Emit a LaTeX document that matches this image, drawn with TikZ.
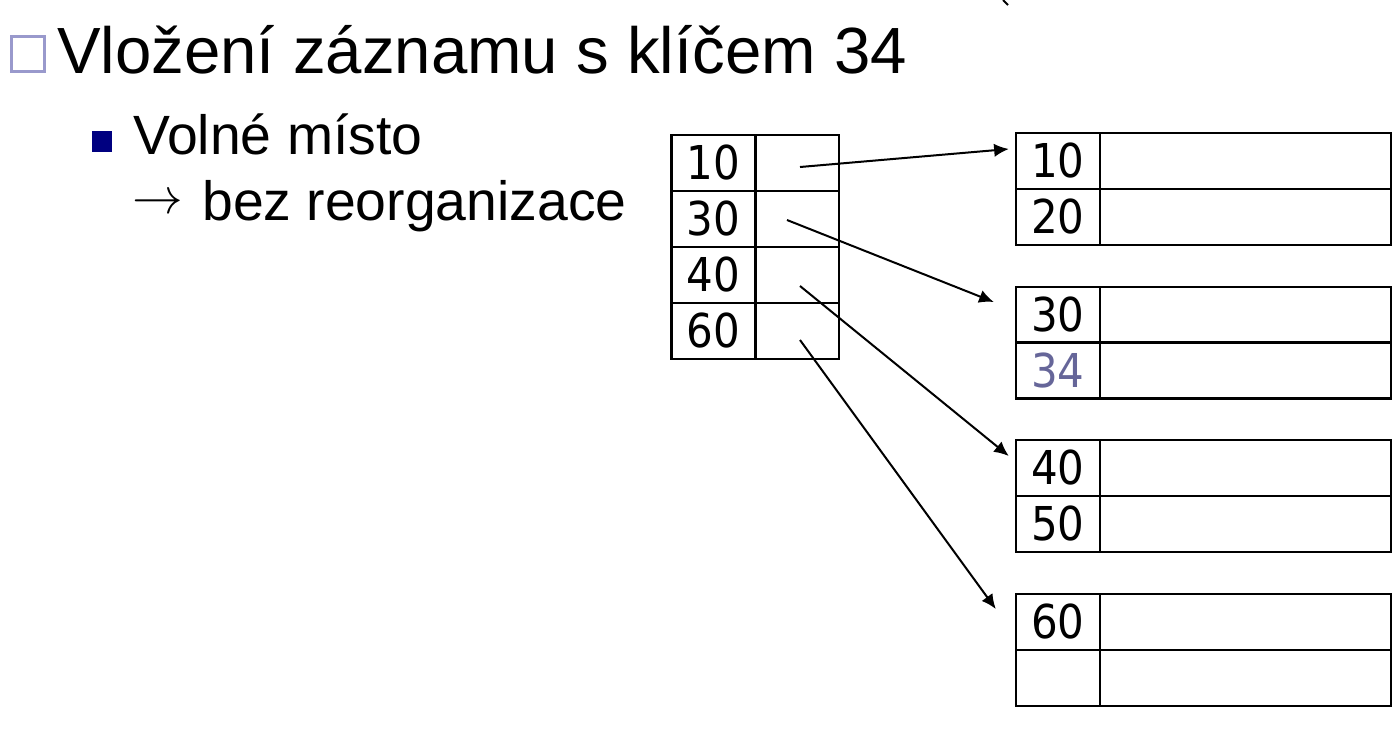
\RequirePackage{fix-cm}
\documentclass[tikz,border=0pt]{standalone}
\usepackage{fontspec}
\setmainfont{Liberation Sans}
\newfontfamily\numfont{DejaVu Sans Condensed}
\usetikzlibrary{arrows.meta}
\definecolor{boxlilac}{RGB}{153,153,204}
\definecolor{bulletnavy}{RGB}{0,0,128}
\definecolor{newkey}{RGB}{102,102,153}
\tikzset{
  cellbox/.style={draw, line width=1.8pt, rectangle, inner sep=0pt, minimum height=42pt,
    font=\numfont\fontsize{35}{42}\selectfont},
  keycell/.style={cellbox, minimum width=63pt},
  ptrcell/.style={cellbox, minimum width=63pt},
  datacell/.style={cellbox, minimum width=218.25pt},
  ptrarrow/.style={line width=1.5pt, -{Latex[length=11pt,width=10pt]}},
  slidetext/.style={anchor=base west, inner sep=0pt},
}
\begin{document}
\begin{tikzpicture}[x=0.75pt,y=-0.75pt]
\useasboundingbox (0,0) rectangle (1396,736);
% title
\draw[boxlilac, line width=2.6pt] (11.5,36.5) rectangle (44.5,71.5);
\node[slidetext, font=\fontsize{49}{60}\selectfont] (title) at (57,73) {Vložení záznamu s klíčem 34};
% sub bullet
\fill[bulletnavy] (92,131) rectangle (112,152);
\node[slidetext, font=\fontsize{41.5}{50}\selectfont] (sub1) at (133,154) {Volné místo};
\node[anchor=base, inner sep=0pt, font=\fontsize{38}{46}\selectfont] (arr) at (157.5,213) {$\rightarrow$};
\node[slidetext, font=\fontsize{41.5}{50}\selectfont] (sub2) at (202,220) {bez reorganizace};
% index table
\node[keycell] (k1) at (713.5,163) {10};
\node[ptrcell] (p1) at (797,163) {};
\node[keycell] (k2) at (713.5,219) {30};
\node[ptrcell] (p2) at (797,219) {};
\node[keycell] (k3) at (713.5,275) {40};
\node[ptrcell] (p3) at (797,275) {};
\node[keycell] (k4) at (713.5,331) {60};
\node[ptrcell] (p4) at (797,331) {};
% data blocks
\node[keycell] (r1a) at (1058,161) {10};
\node[datacell] (d1a) at (1245.5,161) {};
\node[keycell] (r1b) at (1058,217) {20};
\node[datacell] (d1b) at (1245.5,217) {};
\node[keycell] (r2a) at (1058,315) {30};
\node[datacell] (d2a) at (1245.5,315) {};
\node[keycell, text=newkey] (r2b) at (1058,370.5) {34};
\node[datacell] (d2b) at (1245.5,370.5) {};
\node[keycell] (r3a) at (1058,468) {40};
\node[datacell] (d3a) at (1245.5,468) {};
\node[keycell] (r3b) at (1058,524) {50};
\node[datacell] (d3b) at (1245.5,524) {};
\node[keycell] (r4a) at (1058,622) {60};
\node[datacell] (d4a) at (1245.5,622) {};
\node[keycell] (r4b) at (1058,678) {};
\node[datacell] (d4b) at (1245.5,678) {};
% pointers
\draw[ptrarrow] ([shift={(3,4)}]p1.center) -- ([shift={(-6,-12)}]r1a.west);
\draw[ptrarrow] ([shift={(-10,1)}]p2.center) -- ([shift={(-21,-13)}]r2a.west);
\draw[ptrarrow] ([shift={(3,11)}]p3.center) -- ([shift={(-6,-12)}]r3a.west);
\draw[ptrarrow] ([shift={(3,9)}]p4.center) -- ([shift={(-19,-13)}]r4a.west);
% small stray mark at top
\coordinate (m1) at (1003,0);
\coordinate (m2) at (1008,5);
\draw[line width=1.5pt] (m1) -- (m2);
\end{tikzpicture}
\end{document}
